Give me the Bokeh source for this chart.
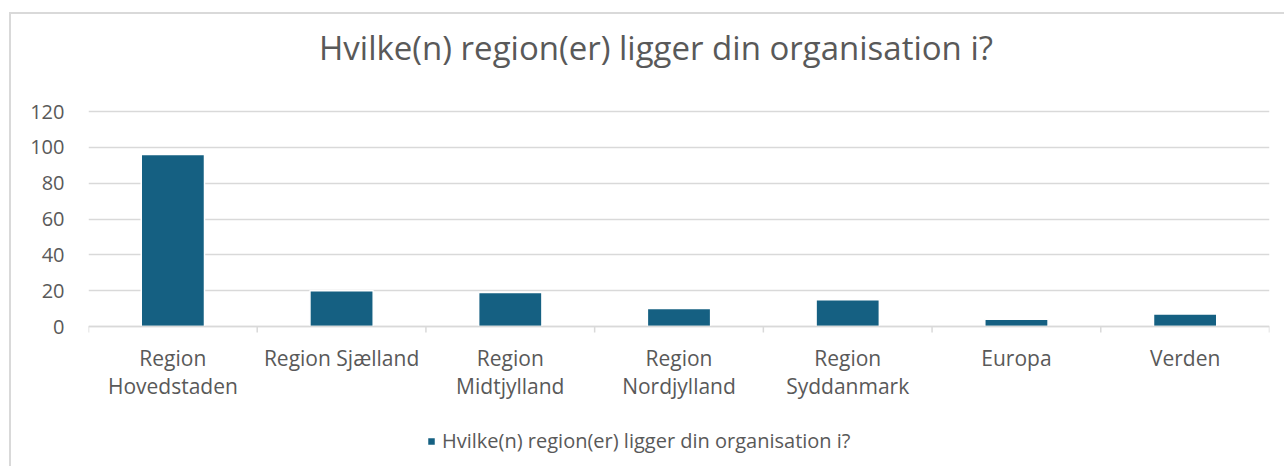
import math
from bokeh.plotting import figure
from bokeh.models import (ColumnDataSource, FixedTicker, Range1d, Legend, LegendItem, Span)
from bokeh.core.properties import value
from bokeh.embed import file_html
from bokeh.resources import INLINE

categories = ["Region\nHovedstaden", "Region Sjælland", "Region\nMidtjylland",
              "Region\nNordjylland", "Region\nSyddanmark", "Europa", "Verden"]
values = [96, 20, 19, 10, 15, 4, 7]
y_ticks = [0, 20, 40, 60, 80, 100, 120]
title_text = "Hvilke(n) region(er) ligger din organisation i?"
series_name = "Hvilke(n) region(er) ligger din organisation i?"

FONT = "Open Sans"
TXT = "#595959"
GRID = "#D9D9D9"
BAR = "#156082"

# layout geometry (pixels)
W, H = 1275, 454
TOP, LEFT, RIGHT = 97, 77, 17     # pixel space above the 120 line / beside the plot
DATA_H = 215                      # pixels used by the 0..120 value band
y_max = y_ticks[-1]
y_min = -y_max * (H - TOP - DATA_H) / DATA_H   # room under the axis for labels + legend
y_top = y_max + y_max * TOP / DATA_H           # room above for the title

xs = list(range(len(categories)))
bounds = [i - 0.5 for i in range(len(categories) + 1)]
src = ColumnDataSource(dict(x=xs, top=values, label=categories, zero=[0] * len(xs)))

p = figure(width=W, height=H, output_backend="svg", toolbar_location=None,
           x_range=Range1d(-0.5, len(categories) - 0.5), y_range=Range1d(y_min, y_top),
           min_border_left=LEFT, min_border_right=RIGHT, min_border_top=0, min_border_bottom=0)
p.margin = (12, 0, 0, 9)
p.outline_line_color = None
p.styles = {"border-left": "2px solid #d9d9d9", "border-top": "2px solid #d9d9d9"}

# y grid + y axis
p.ygrid.ticker = FixedTicker(ticks=y_ticks)
p.ygrid.grid_line_color = GRID
p.ygrid.grid_line_width = 1.5
p.xgrid.grid_line_color = None

p.yaxis.ticker = FixedTicker(ticks=y_ticks)
p.yaxis.axis_line_color = None
p.yaxis.major_tick_line_color = None
p.yaxis.minor_tick_line_color = None
p.yaxis.major_label_text_font = FONT
p.yaxis.major_label_text_font_size = "20px"
p.yaxis.major_label_text_color = TXT
p.yaxis.major_label_standoff = 18
p.xaxis.visible = False

# bars
r = p.vbar(x="x", top="top", width=0.375, source=src, fill_color=BAR,
           line_color="white", line_width=1.5)

# category axis drawn at value 0
p.add_layout(Span(location=0, dimension="width", line_color=GRID, line_width=1.5))
p.ray(x=bounds, y=[0] * len(bounds), length=6, length_units="screen",
      angle=-math.pi / 2, line_color=GRID, line_width=1.5)
p.text(x="x", y="zero", text="label", source=src, y_offset=17,
       text_font=value(FONT), text_font_size="21px", text_color=TXT,
       text_align="center", text_baseline="top", text_line_height=1.0)

# title (drawn above the 120 line)
p.text(x=[(len(categories) - 1) / 2], y=[y_max], text=[title_text], x_offset=-23, y_offset=-64,
       text_font=value(FONT), text_font_size="33px", text_color=TXT,
       text_align="center", text_baseline="middle")

legend = Legend(items=[LegendItem(label=series_name, renderers=[r])],
                orientation="horizontal", location=(338, 14),
                label_text_font=FONT, label_text_font_size="20px", label_text_color=TXT,
                glyph_width=10, glyph_height=10, border_line_color=None,
                background_fill_alpha=0, margin=0, padding=0, label_standoff=6)
p.add_layout(legend, "center")

open("out.html", "w").write(file_html(p, INLINE))
